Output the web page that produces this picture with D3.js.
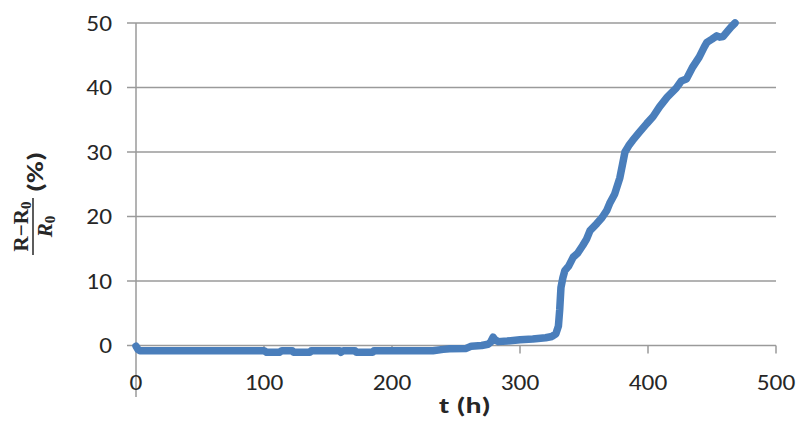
<!DOCTYPE html>
<html><head><meta charset="utf-8">
<script src="https://cdn.jsdelivr.net/npm/d3@7"></script>
<style>body{margin:0;background:#fff}svg{display:block}</style>
</head><body><svg id="c" width="796" height="422"></svg>
<script>
const tHours = [0,1.5,3,100,102,112,114,122,123,136,137,159,160,162,171,172,185,186,232,240,245,258,262,270,275,277,279,280.5,283,290,300,310,320,325,328,330,331,332,333.5,335,338,341.6,345,349,352,354.7,360,364,367.7,370,374,378,380,382,385,388,393,399,404,409,415,422,426,430,435,440,444,446,450,453.7,456,458.6,462,465,468];
const resChange = [-0.1,-0.6,-0.8,-0.8,-1.05,-1.05,-0.8,-0.8,-1.05,-1.05,-0.8,-0.8,-1.05,-0.8,-0.8,-1.05,-1.05,-0.8,-0.8,-0.6,-0.5,-0.45,-0.1,0.0,0.2,0.5,1.3,0.9,0.6,0.7,0.9,1.0,1.2,1.4,1.8,3.0,5.5,9.0,10.5,11.6,12.3,13.7,14.3,15.5,16.5,17.8,18.9,19.8,20.9,22.0,23.5,26.0,28.0,30.0,31.0,31.8,33.0,34.4,35.5,37.0,38.5,39.9,41.0,41.3,43.2,44.7,46.3,47.0,47.5,48.0,47.8,47.9,48.7,49.4,50.0];
const xTicks = [0,100,200,300,400,500];
const yTicks = [0,10,20,30,40,50];

const svg = d3.select("#c");
const font = "Carlito, Calibri, Lato, sans-serif";
const x = d3.scaleLinear().domain([0,500]).range([136,776]);
const y = d3.scaleLinear().domain([0,50]).range([345.5,23]);
const gridColor = "#9a9a9a";

// gridlines
svg.append("g").selectAll("line").data(yTicks).join("line")
  .attr("x1", 127).attr("x2", 776)
  .attr("y1", d=>y(d)).attr("y2", d=>y(d))
  .attr("stroke", gridColor).attr("stroke-width", 1.5);
// y axis line (extends below)
svg.append("line").attr("x1",136).attr("x2",136).attr("y1",y(50)).attr("y2",397)
  .attr("stroke",gridColor).attr("stroke-width",1.5);
// x ticks
svg.append("g").selectAll("line").data(xTicks.slice(1)).join("line")
  .attr("x1", d=>x(d)).attr("x2", d=>x(d)).attr("y1", y(0)).attr("y2", y(0)+8)
  .attr("stroke", gridColor).attr("stroke-width", 1.5);

// tick labels (slightly horizontally stretched like the reference)
svg.append("g").selectAll("text").data(yTicks).join("text")
  .attr("transform", d=>`translate(112,${y(d)}) scale(1.15,1)`).attr("dy","0.35em")
  .attr("text-anchor","end").attr("font-family",font).attr("font-size",22)
  .attr("fill","#262626").text(d=>d);
svg.append("g").selectAll("text").data(xTicks).join("text")
  .attr("transform", d=>`translate(${x(d)},390) scale(1.15,1)`)
  .attr("text-anchor","middle").attr("font-family",font).attr("font-size",22)
  .attr("fill","#262626").text(d=>d);

// series
const pts = tHours.map((t,i)=>[t,resChange[i]]);
svg.append("path").datum(pts)
  .attr("d", d3.line().x(d=>x(d[0])).y(d=>y(d[1])))
  .attr("fill","none").attr("stroke","#4a7ebb").attr("stroke-width",7.5)
  .attr("stroke-linejoin","round").attr("stroke-linecap","round");

// x title
svg.append("text").attr("transform","translate(465,413) scale(1.3,1)").attr("text-anchor","middle")
  .attr("font-family",font).attr("font-size",23).attr("font-weight","bold")
  .attr("fill","#262626").text("t (h)");

// y title (fraction + (%))
const g = svg.append("g").attr("transform","translate(33,255) rotate(-90)");
g.append("line").attr("x1",0).attr("x2",57).attr("y1",0).attr("y2",0)
  .attr("stroke","#262626").attr("stroke-width",1.5);
const num = g.append("text").attr("x",28.5).attr("y",-5).attr("text-anchor","middle")
  .attr("font-family","Liberation Serif, serif").attr("font-size",21).attr("font-weight","bold").attr("fill","#262626");
num.append("tspan").text("R\u2212R");
num.append("tspan").attr("font-size",15).attr("dy",3).text("0");
const den = g.append("text").attr("x",28.5).attr("y",19).attr("text-anchor","middle")
  .attr("font-family","Liberation Serif, serif").attr("font-size",21).attr("font-weight","bold").attr("font-style","italic").attr("fill","#262626");
den.append("tspan").text("R");
den.append("tspan").attr("font-size",15).attr("dy",3).attr("font-style","normal").text("0");
g.append("text").attr("transform","translate(83,10) scale(1.3,1)").attr("text-anchor","middle")
  .attr("font-family",font).attr("font-size",23).attr("font-weight","bold").attr("fill","#262626").text("(%)");
</script></body></html>
